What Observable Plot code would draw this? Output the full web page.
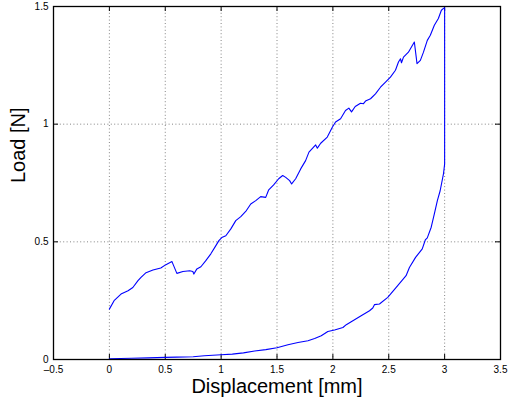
<!DOCTYPE html>
<html>
<head>
<meta charset="utf-8">
<script src="https://cdn.jsdelivr.net/npm/d3@7"></script>
<script src="https://cdn.jsdelivr.net/npm/@observablehq/plot@0.6"></script>
<style>
  html, body { margin: 0; padding: 0; background: #fff; }
  #chart svg { display: block; }
</style>
</head>
<body>
<div id="chart"></div>
<script>
// Loading branch (displacement mm, load N)
const loadX = [0, 0.042, 0.104, 0.167, 0.21, 0.256, 0.283, 0.328, 0.39, 0.46, 0.506, 0.56, 0.604, 0.658, 0.72, 0.747, 0.756, 0.783, 0.819, 0.863, 0.908, 0.953, 0.98, 1.006, 1.042, 1.087, 1.131, 1.176, 1.22, 1.265, 1.31, 1.354, 1.399, 1.426, 1.47, 1.515, 1.551, 1.578, 1.613, 1.631, 1.667, 1.712, 1.756, 1.786, 1.846, 1.861, 1.891, 1.95, 1.995, 2.024, 2.069, 2.113, 2.143, 2.167, 2.2, 2.247, 2.274, 2.292, 2.337, 2.381, 2.426, 2.471, 2.515, 2.56, 2.587, 2.605, 2.614, 2.632, 2.676, 2.729, 2.753, 2.783, 2.81, 2.845, 2.872, 2.908, 2.944, 2.971, 2.99, 3.0];
const loadY = [0.214, 0.25, 0.278, 0.292, 0.306, 0.335, 0.349, 0.369, 0.38, 0.389, 0.403, 0.416, 0.366, 0.374, 0.377, 0.374, 0.363, 0.385, 0.394, 0.42, 0.449, 0.484, 0.505, 0.518, 0.526, 0.555, 0.59, 0.607, 0.629, 0.661, 0.675, 0.692, 0.689, 0.721, 0.742, 0.768, 0.782, 0.774, 0.76, 0.746, 0.768, 0.81, 0.845, 0.881, 0.912, 0.898, 0.919, 0.945, 0.987, 1.009, 1.023, 1.058, 1.068, 1.052, 1.075, 1.089, 1.087, 1.098, 1.108, 1.129, 1.157, 1.179, 1.2, 1.229, 1.264, 1.278, 1.261, 1.285, 1.306, 1.349, 1.257, 1.271, 1.305, 1.356, 1.378, 1.42, 1.449, 1.484, 1.492, 1.495];
// Unloading branch (from the end of loading back to zero)
const unloadX = [3.0, 2.99, 2.96, 2.935, 2.908, 2.88, 2.845, 2.827, 2.8, 2.74, 2.685, 2.655, 2.58, 2.491, 2.417, 2.372, 2.357, 2.328, 2.253, 2.179, 2.12, 2.09, 2.015, 1.955, 1.896, 1.837, 1.777, 1.688, 1.598, 1.5, 1.4, 1.3, 1.2, 1.1, 1.0, 0.85, 0.75, 0.6, 0.5, 0.35, 0.2, 0.1, 0];
const unloadY = [0.83, 0.79, 0.717, 0.675, 0.619, 0.562, 0.517, 0.508, 0.47, 0.434, 0.391, 0.356, 0.314, 0.264, 0.236, 0.233, 0.219, 0.207, 0.186, 0.165, 0.148, 0.136, 0.125, 0.119, 0.101, 0.089, 0.08, 0.072, 0.063, 0.05, 0.042, 0.036, 0.028, 0.023, 0.02, 0.016, 0.012, 0.01, 0.009, 0.007, 0.005, 0.004, 0.003];

const xTicks = [-0.5, 0, 0.5, 1, 1.5, 2, 2.5, 3, 3.5];
const yTicks = [0, 0.5, 1, 1.5];
const xLabel = "Displacement [mm]";
const yLabel = "Load [N]";

const data = [
  ...loadX.map((x, i) => ({x, y: loadY[i]})),
  ...unloadX.map((x, i) => ({x, y: unloadY[i]}))
];

const W = 508, H = 402;
const mL = 53, mR = 8, mT = 6, mB = 43;
const pw = W - mL - mR, ph = H - mT - mB;
const tickLen = 5;
const fmt = d => String(d).replace("-", "\u2013");

const chart = Plot.plot({
  width: W,
  height: H,
  marginLeft: mL,
  marginRight: mR,
  marginTop: mT,
  marginBottom: mB,
  style: {fontFamily: "'Liberation Sans', Arial, Helvetica, sans-serif", background: "#fff"},
  x: {domain: [-0.5, 3.5]},
  y: {domain: [0, 1.5]},
  marks: [
    Plot.gridX(xTicks.slice(1, -1), {stroke: "#666", strokeOpacity: 1, strokeWidth: 0.8, strokeDasharray: "1,2.4"}),
    Plot.gridY(yTicks.slice(1, -1), {stroke: "#666", strokeOpacity: 1, strokeWidth: 0.8, strokeDasharray: "1,2.4"}),
    Plot.tickX(xTicks, {x: d => d, insetTop: ph - tickLen, stroke: "#000"}),
    Plot.tickX(xTicks, {x: d => d, insetBottom: ph - tickLen, stroke: "#000"}),
    Plot.tickY(yTicks, {y: d => d, insetRight: pw - tickLen, stroke: "#000"}),
    Plot.tickY(yTicks, {y: d => d, insetLeft: pw - tickLen, stroke: "#000"}),
    Plot.axisX(xTicks, {tickSize: 0, tickPadding: 6, fontSize: 10, tickFormat: fmt, fill: "#000", label: null}),
    Plot.axisY(yTicks, {tickSize: 0, tickPadding: 5, fontSize: 10, tickFormat: fmt, fill: "#000", label: null}),
    Plot.line(data, {x: "x", y: "y", stroke: "#0000ff", strokeWidth: 1.1}),
    Plot.frame({stroke: "#000", strokeWidth: 1.3}),
    Plot.text([xLabel], {frameAnchor: "bottom", dy: 33, fontSize: 20, fill: "#000"}),
    Plot.text([yLabel], {frameAnchor: "left", dx: -35, rotate: -90, fontSize: 20, fill: "#000"})
  ]
});
document.getElementById("chart").appendChild(chart);
</script>
</body>
</html>
